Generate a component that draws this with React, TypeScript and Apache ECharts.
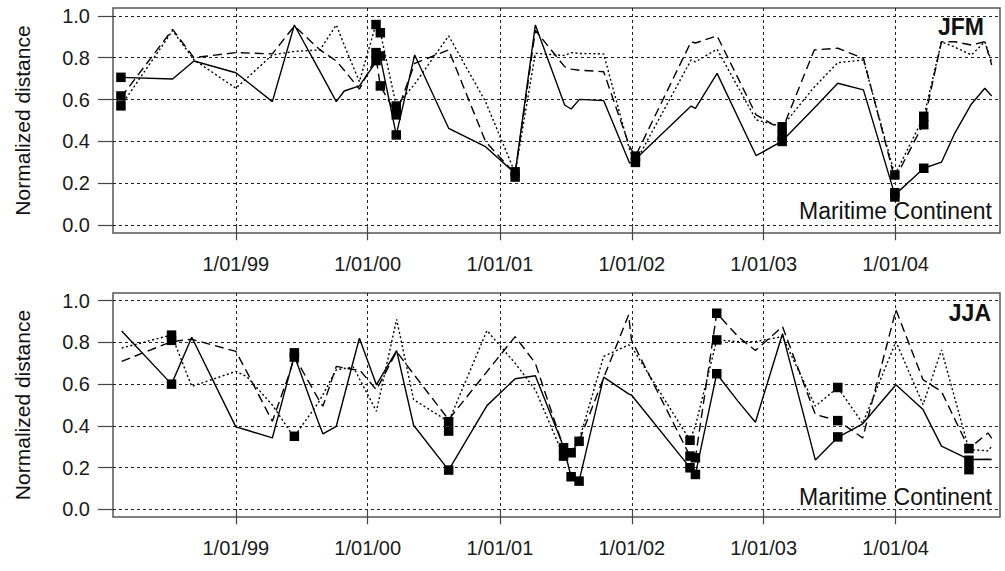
import React, { useEffect, useRef } from "react";
import * as echarts from "echarts";

// ---------- axis ticks ----------
const yearTicks = ["1999-01-01", "2000-01-01", "2001-01-01", "2002-01-01", "2003-01-01", "2004-01-01"];
const yTicks = [0, 0.2, 0.4, 0.6, 0.8, 1.0];
const xStart = "1998-01-26";
const xEnd = "2004-10-16";

// ---------- JFM panel ----------
const jfmDates = [
  "1998-02-17", "1998-07-10", "1998-09-07", "1999-01-01", "1999-04-12", "1999-06-12", "1999-08-22",
  "1999-10-06", "1999-10-28", "1999-12-09", "2000-01-24", "2000-02-05", "2000-03-20", "2000-05-10",
  "2000-08-12", "2000-11-22", "2001-02-12", "2001-04-09", "2001-06-29", "2001-07-17", "2001-08-09",
  "2001-10-15", "2001-12-26", "2002-01-11", "2002-06-14", "2002-06-26", "2002-08-25", "2002-12-11",
  "2003-02-21", "2003-05-21", "2003-07-25", "2003-10-04", "2003-12-30", "2004-03-19", "2004-05-07",
  "2004-06-13", "2004-07-29", "2004-09-04", "2004-09-23",
];
const jfmSolid = [
  0.706, 0.698, 0.784, 0.728, 0.59, 0.956, 0.733, 0.59, 0.641, 0.665, 0.78, 0.8, 0.431, 0.813,
  0.463, 0.375, 0.248, 0.956, 0.574, 0.555, 0.601, 0.595, 0.296, 0.315, 0.569, 0.558, 0.725, 0.332,
  0.402, 0.56, 0.678, 0.646, 0.145, 0.272, 0.301, 0.44, 0.579, 0.654, 0.617,
];
const jfmDashed = [
  0.61, 0.935, 0.8, 0.824, 0.818, 0.951, 0.837, 0.784, 0.74, 0.65, 0.8, 0.665, 0.53, 0.773,
  0.837, 0.4, 0.245, 0.93, 0.757, 0.745, 0.74, 0.733, 0.375, 0.33, 0.876, 0.87, 0.904, 0.527,
  0.455, 0.837, 0.845, 0.797, 0.22, 0.487, 0.876, 0.876, 0.86, 0.876, 0.765,
];
const jfmDotted = [
  0.57, 0.929, 0.79, 0.654, 0.813, 0.83, 0.837, 0.956, 0.86, 0.685, 0.961, 0.921, 0.57, 0.674,
  0.904, 0.59, 0.25, 0.821, 0.81, 0.824, 0.82, 0.818, 0.359, 0.3, 0.789, 0.78, 0.84, 0.503,
  0.471, 0.66, 0.776, 0.789, 0.24, 0.518, 0.876, 0.85, 0.813, 0.876, 0.78,
];
const jfmMarkerDates = [
  "1998-02-17", "1998-02-17", "1998-02-17", "2000-01-24", "2000-01-24", "2000-01-24",
  "2000-02-05", "2000-02-05", "2000-02-05", "2000-03-20", "2000-03-20", "2000-03-20",
  "2001-02-12", "2001-02-12", "2002-01-11", "2002-01-11", "2003-02-21", "2003-02-21", "2003-02-21",
  "2003-12-30", "2003-12-30", "2003-12-30", "2004-03-19", "2004-03-19", "2004-03-19",
];
const jfmMarkerValues = [
  0.706, 0.617, 0.57, 0.958, 0.824, 0.786,
  0.919, 0.808, 0.665, 0.569, 0.527, 0.431,
  0.255, 0.23, 0.33, 0.3, 0.47, 0.43, 0.4,
  0.24, 0.155, 0.135, 0.52, 0.48, 0.272,
];

// ---------- JJA panel ----------
const jjaDates = [
  "1998-02-19", "1998-07-07", "1998-09-01", "1999-01-01", "1999-01-31", "1999-04-12", "1999-05-31",
  "1999-06-12", "1999-08-17", "1999-08-30", "1999-10-06", "1999-11-22", "1999-12-09", "2000-01-25",
  "2000-03-21", "2000-05-07", "2000-08-12", "2000-11-26", "2001-02-12", "2001-04-09", "2001-06-26",
  "2001-07-17", "2001-08-08", "2001-10-15", "2001-12-23", "2001-12-31", "2002-06-11", "2002-06-26",
  "2002-08-24", "2002-10-21", "2002-12-09", "2003-02-22", "2003-05-24", "2003-07-25", "2003-10-02",
  "2004-01-02", "2004-03-17", "2004-05-07", "2004-07-22", "2004-09-13", "2004-09-23",
];
const jjaSolid = [
  0.855, 0.6, 0.825, 0.395, 0.38, 0.342, 0.66, 0.736, 0.42, 0.362, 0.398, 0.71, 0.82, 0.597,
  0.761, 0.403, 0.188, 0.497, 0.626, 0.64, 0.3, 0.156, 0.135, 0.634, 0.553, 0.548, 0.2, 0.167,
  0.65, 0.52, 0.417, 0.842, 0.236, 0.345, 0.41, 0.597, 0.478, 0.303, 0.239, 0.24, 0.239,
];
const jjaDashed = [
  0.709, 0.804, 0.815, 0.757, 0.66, 0.422, 0.66, 0.733, 0.53, 0.494, 0.685, 0.67, 0.669, 0.573,
  0.756, 0.648, 0.43, 0.66, 0.828, 0.7, 0.295, 0.271, 0.326, 0.63, 0.932, 0.812, 0.255, 0.247,
  0.94, 0.83, 0.761, 0.876, 0.454, 0.425, 0.342, 0.956, 0.621, 0.565, 0.291, 0.366, 0.34,
];
const jjaDotted = [
  0.773, 0.836, 0.589, 0.661, 0.637, 0.5, 0.374, 0.35, 0.51, 0.55, 0.669, 0.682, 0.626, 0.47,
  0.911, 0.526, 0.42, 0.857, 0.7, 0.573, 0.255, 0.28, 0.33, 0.733, 0.788, 0.78, 0.331, 0.4,
  0.812, 0.804, 0.804, 0.828, 0.494, 0.584, 0.412, 0.804, 0.502, 0.764, 0.287, 0.28, 0.302,
];
const jjaMarkerDates = [
  "1998-07-07", "1998-07-07", "1998-07-07", "1999-06-12", "1999-06-12", "1999-06-12",
  "2000-08-12", "2000-08-12", "2000-08-12", "2001-06-26", "2001-06-26", "2001-07-17", "2001-07-17",
  "2001-08-08", "2001-08-08", "2002-06-11", "2002-06-11", "2002-06-11", "2002-06-26", "2002-06-26",
  "2002-08-24", "2002-08-24", "2002-08-24", "2003-07-25", "2003-07-25", "2003-07-25",
  "2004-07-22", "2004-07-22", "2004-07-22",
];
const jjaMarkerValues = [
  0.835, 0.81, 0.6, 0.75, 0.73, 0.35,
  0.42, 0.375, 0.188, 0.295, 0.255, 0.271, 0.156,
  0.326, 0.135, 0.331, 0.255, 0.199, 0.247, 0.167,
  0.94, 0.812, 0.65, 0.584, 0.425, 0.347,
  0.291, 0.235, 0.19,
];

const panelTitles = ["JFM", "JJA"];
const regionLabel = "Maritime Continent";
const yAxisTitle = "Normalized distance";

// ---------- helpers ----------
const ts = (d: string) => Date.parse(d + "T00:00:00Z");
const zip = (dates: string[], vals: number[]) => dates.map((d, i) => [ts(d), vals[i]]);
const FONT = "'Liberation Sans', Arial, Helvetica, sans-serif";

export default function App() {
  const ref = useRef<HTMLDivElement>(null);

  useEffect(() => {
    if (!ref.current) return;
    const chart = echarts.init(ref.current, null, { renderer: "svg" });
    const yearTs = yearTicks.map(ts);
    const grids = [
      { left: 113, top: 8, width: 887, height: 225 },
      { left: 113, top: 293, width: 887, height: 224 },
    ];
    const gridLine = { show: true, lineStyle: { color: "#222", type: [3, 3] as any, width: 1 } };

    const xAxes = grids.map((_, i) => ({
      type: "value",
      gridIndex: i,
      min: ts(xStart),
      max: ts(xEnd),
      axisLine: { show: false },
      axisTick: { show: true, customValues: yearTs, length: 15, lineStyle: { color: "#444", width: 1.2 } },
      axisLabel: {
        customValues: yearTs,
        margin: 21,
        fontSize: 20,
        fontFamily: FONT,
        color: "#1a1a1a",
        formatter: (v: number) => "1/01/" + String(new Date(v).getUTCFullYear()).slice(2),
      },
      splitLine: gridLine,
    }));
    const yAxes = grids.map((_, i) => ({
      type: "value",
      gridIndex: i,
      min: -0.037,
      max: 1.037,
      axisLine: { show: false },
      axisTick: { show: true, customValues: yTicks, length: 15, lineStyle: { color: "#444", width: 1.2 } },
      axisLabel: {
        customValues: yTicks,
        margin: 23,
        fontSize: 20,
        fontFamily: FONT,
        color: "#1a1a1a",
        formatter: (v: number) => v.toFixed(1),
      },
      splitLine: gridLine,
    }));

    const panels = [
      { dates: jfmDates, s: jfmSolid, d: jfmDashed, t: jfmDotted, md: jfmMarkerDates, mv: jfmMarkerValues },
      { dates: jjaDates, s: jjaSolid, d: jjaDashed, t: jjaDotted, md: jjaMarkerDates, mv: jjaMarkerValues },
    ];
    const series: any[] = [];
    panels.forEach((p, i) => {
      const styles: [number[], any][] = [
        [p.s, "solid"],
        [p.d, [9, 5]],
        [p.t, [2, 2.5]],
      ];
      styles.forEach(([vals, type]) => {
        series.push({
          type: "line",
          xAxisIndex: i,
          yAxisIndex: i,
          data: zip(p.dates, vals),
          symbol: "none",
          showSymbol: false,
          silent: true,
          lineStyle: { color: "#000", width: 1.4, type },
        });
      });
      series.push({
        type: "scatter",
        xAxisIndex: i,
        yAxisIndex: i,
        data: zip(p.md, p.mv),
        symbol: "rect",
        symbolSize: 9.5,
        silent: true,
        itemStyle: { color: "#000", opacity: 1, borderWidth: 0 },
        z: 5,
      });
    });

    const txt = (text: string, x: number, y: number, font: string, align: string, rotation = 0) => ({
      type: "text",
      x,
      y,
      rotation,
      silent: true,
      z: 100,
      style: { text, font, align, verticalAlign: "middle", fill: "#111" },
    });

    chart.setOption({
      animation: false,
      backgroundColor: "#fff",
      grid: grids.map((g) => ({ ...g, show: true, borderColor: "#555", borderWidth: 1.5, backgroundColor: "transparent" })),
      xAxis: xAxes,
      yAxis: yAxes,
      series,
      graphic: [
        txt(yAxisTitle, 22, 120.5, `21px ${FONT}`, "center", Math.PI / 2),
        txt(yAxisTitle, 22, 405, `21px ${FONT}`, "center", Math.PI / 2),
        txt(panelTitles[0], 984, 27, `bold 23px ${FONT}`, "right"),
        txt(panelTitles[1], 991, 313, `bold 23px ${FONT}`, "right"),
        txt(regionLabel, 992, 211, `23px ${FONT}`, "right"),
        txt(regionLabel, 992, 497, `23px ${FONT}`, "right"),
      ],
    });
    return () => chart.dispose();
  }, []);

  return (
    <div
      ref={ref}
      style={{ position: "absolute", left: 0, top: 0, width: 1005, height: 571, background: "#fff" }}
    />
  );
}
